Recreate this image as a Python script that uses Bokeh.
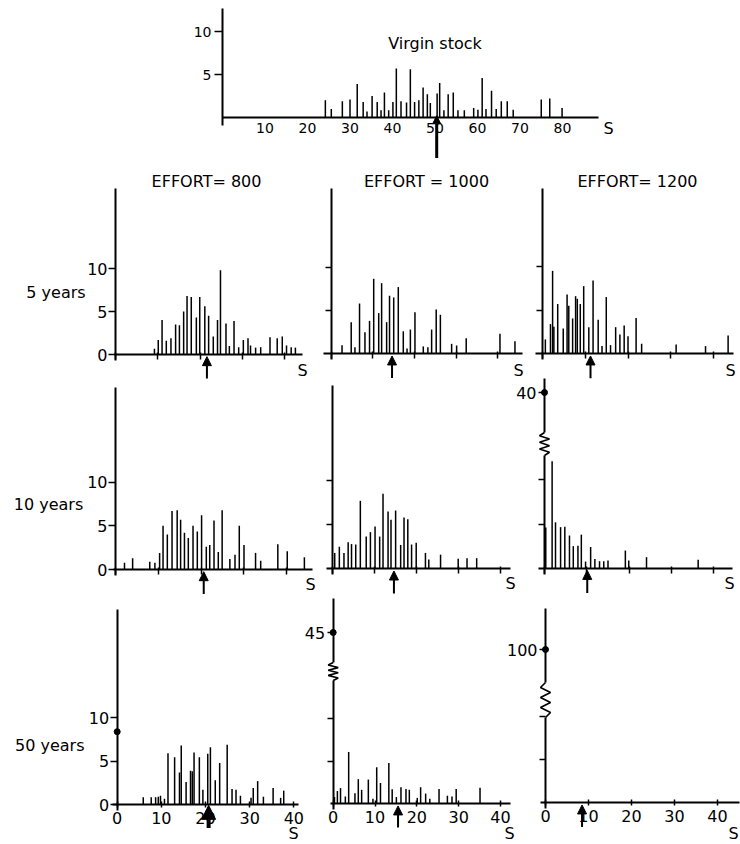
from bokeh.plotting import figure
from bokeh.models import (Range1d, LinearAxis, FixedTicker, Arrow, NormalHead,
                          Label, ColumnDataSource)
from bokeh.embed import file_html
from bokeh.resources import INLINE

W, H = 740, 844
FONT = "DejaVu Sans"

# ---------------------------------------------------------------- data
# Number of fish (n) at each stock-size class (S)

virgin_s = [24.2, 25.6, 28.2, 30.0, 31.7, 33.1, 34.0, 35.2, 36.4, 37.3, 38.1, 39.1, 40.1, 40.9,
            42.0, 43.3, 44.2, 45.2, 46.2, 47.2, 48.2, 48.9, 50.5, 51.1, 52.1, 53.1, 54.3, 55.4,
            56.9, 59.1, 60.1, 61.1, 62.0, 63.3, 64.4, 65.6, 67.0, 68.4, 75.0, 77.0, 79.9]
virgin_n = [2.0, 1.0, 1.9, 2.1, 3.9, 1.8, 0.7, 2.5, 1.8, 0.85, 2.9, 0.85, 1.8, 5.7,
            1.9, 1.75, 5.6, 1.8, 2.0, 3.5, 2.7, 1.7, 2.8, 4.0, 0.85, 2.7, 2.9, 0.85,
            0.85, 1.1, 0.9, 4.6, 1.0, 3.1, 1.0, 1.9, 1.9, 0.9, 2.1, 2.2, 1.1]

e800_5y_s = [9.2, 10.1, 11.0, 12.0, 13.1, 14.2, 15.1, 16.1, 16.9, 17.9, 19.1, 19.9, 21.1, 22.0,
             23.1, 24.1, 24.8, 26.1, 26.9, 28.0, 29.1, 30.2, 31.3, 31.9, 33.1, 34.3, 36.5, 38.2,
             39.4, 40.4, 41.5, 42.5]
e800_5y_n = [0.66, 1.7, 4.0, 1.6, 1.9, 3.5, 3.4, 5.0, 6.8, 6.7, 4.3, 6.7, 5.6, 4.5,
             2.1, 4.0, 9.8, 3.6, 1.0, 3.9, 0.85, 1.7, 1.9, 1.05, 0.8, 0.85, 2.0, 1.9,
             2.1, 1.05, 0.85, 0.8]

e1000_5y_s = [2.6, 4.8, 5.7, 6.8, 8.1, 9.2, 10.2, 11.4, 12.1, 13.3, 14.0, 15.0, 16.1, 17.3,
              18.2, 19.0, 20.1, 22.1, 23.2, 24.1, 25.2, 26.2, 28.9, 30.1, 32.4, 40.5, 44.1]
e1000_5y_n = [1.0, 3.65, 0.77, 5.8, 2.5, 3.8, 8.65, 4.7, 8.15, 3.65, 6.7, 6.5, 7.7, 2.6,
              0.6, 2.8, 4.8, 0.85, 0.77, 2.8, 5.1, 4.5, 1.15, 0.96, 1.8, 2.3, 1.46]

e1200_5y_s = [0.6, 1.8, 2.3, 2.6, 3.5, 4.8, 5.7, 6.1, 7.0, 7.7, 8.1, 8.8, 9.6, 10.8,
              11.8, 13.0, 13.9, 14.9, 15.9, 17.1, 18.1, 19.1, 20.0, 21.9, 23.2, 31.3, 38.2, 43.5]
e1200_5y_n = [1.65, 3.4, 9.5, 3.1, 5.7, 2.9, 6.8, 5.5, 4.05, 6.6, 6.3, 5.7, 7.75, 3.05,
              8.4, 3.9, 0.9, 6.5, 1.0, 3.05, 2.2, 3.25, 2.0, 4.1, 1.15, 1.07, 0.88, 2.1]

e800_10y_s = [2.1, 4.0, 8.0, 9.2, 10.3, 11.1, 12.1, 13.2, 14.4, 15.2, 16.1, 17.0, 18.1, 19.1,
              20.1, 21.2, 22.0, 23.0, 24.0, 24.9, 26.7, 27.9, 28.9, 30.0, 32.7, 33.9, 37.9,
              40.1, 44.1]
e800_10y_n = [0.76, 1.3, 0.9, 0.76, 1.9, 5.0, 4.0, 6.7, 6.8, 5.7, 4.2, 3.6, 5.0, 4.35,
              6.2, 2.6, 2.8, 5.6, 2.0, 6.8, 1.2, 1.7, 5.0, 2.8, 1.9, 1.0, 2.9,
              2.1, 1.4]

e1000_10y_s = [0.6, 1.7, 2.8, 3.8, 4.6, 5.6, 6.7, 8.1, 9.1, 10.2, 11.3, 12.1, 13.3, 14.0,
               15.1, 16.3, 17.1, 18.0, 18.9, 20.0, 22.2, 23.0, 25.8, 30.0, 32.1, 34.4]
e1000_10y_n = [1.8, 2.5, 1.8, 3.0, 2.8, 2.75, 7.7, 3.65, 4.15, 4.8, 3.65, 8.5, 6.5, 5.55,
               6.6, 2.7, 5.8, 5.6, 2.75, 2.95, 1.8, 1.05, 1.6, 1.13, 1.2, 1.2]

e1200_10y_s = [0.3, 1.8, 2.6, 3.8, 4.8, 5.9, 6.8, 7.9, 8.7, 9.7, 10.9, 11.9, 13.0, 14.0,
               15.0, 19.1, 19.9, 24.1, 36.3]
e1200_10y_n = [4.6, 12.1, 5.2, 4.65, 4.7, 3.7, 2.5, 2.55, 3.8, 0.75, 2.4, 1.05, 0.8, 0.8,
               0.87, 2.0, 0.87, 1.25, 0.95]

e800_50y_s = [5.9, 7.7, 8.7, 9.3, 9.8, 10.7, 11.5, 13.0, 14.1, 14.5, 15.6, 16.6, 17.0, 17.4,
              18.6, 19.4, 20.5, 21.1, 22.2, 23.2, 24.9, 26.0, 26.9, 27.9, 30.3, 30.8, 31.8,
              33.1, 35.3, 37.0, 37.7]
e800_50y_n = [0.85, 0.85, 0.85, 0.9, 1.0, 0.65, 5.9, 5.45, 3.7, 6.8, 2.6, 3.9, 3.85, 6.0,
              5.45, 1.7, 5.85, 6.6, 2.8, 4.8, 6.9, 1.8, 1.7, 1.0, 0.77, 1.9, 2.7,
              0.9, 1.9, 0.77, 1.6]

e1000_50y_s = [0.3, 1.0, 1.75, 2.9, 3.7, 5.2, 6.0, 6.8, 8.4, 9.5, 10.4, 11.3, 13.3, 14.1,
               15.1, 16.2, 17.4, 18.2, 20.1, 20.9, 22.1, 23.1, 25.3, 27.3, 28.4, 29.4, 35.1]
e1000_50y_n = [0.8, 1.5, 1.85, 0.86, 6.1, 1.25, 2.9, 1.65, 2.85, 0.6, 4.3, 2.45, 4.8, 1.7,
               0.8, 1.95, 1.75, 1.65, 0.7, 1.95, 1.2, 0.6, 1.75, 0.95, 0.86, 1.75, 1.9]

e1200_50y_s = []
e1200_50y_n = []

# Count in the S = 0 class, shown as a dot on the vertical axis
e800_50y_zero = 8.4
e1200_10y_zero = 40
e1000_50y_zero = 45
e1200_50y_zero = 100

# Mean S of each distribution (arrow under the axis)
mean_s = {"virgin": 50.4,
          "e800_5y": 21.6, "e1000_5y": 14.6, "e1200_5y": 11.2,
          "e800_10y": 20.6, "e1000_10y": 14.7, "e1200_10y": 10.1,
          "e800_50y": 20.7, "e1000_50y": 15.5, "e1200_50y": 8.5}

efforts = ["EFFORT= 800", "EFFORT = 1000", "EFFORT= 1200"]
year_labels = ["5 years", "10 years", "50 years"]

series = {
    "virgin": (virgin_s, virgin_n),
    "e800_5y": (e800_5y_s, e800_5y_n), "e1000_5y": (e1000_5y_s, e1000_5y_n),
    "e1200_5y": (e1200_5y_s, e1200_5y_n),
    "e800_10y": (e800_10y_s, e800_10y_n), "e1000_10y": (e1000_10y_s, e1000_10y_n),
    "e1200_10y": (e1200_10y_s, e1200_10y_n),
    "e800_50y": (e800_50y_s, e800_50y_n), "e1000_50y": (e1000_50y_s, e1000_50y_n),
    "e1200_50y": (e1200_50y_s, e1200_50y_n),
}

# ---------------------------------------------------------------- layout
# axis origin on the page (ox, oy in px) and px per unit (sx, sy) for each panel
geom = {
    "virgin":    dict(ox=222.0, oy=117.0, sx=4.25, sy=8.6),
    "e800_5y":   dict(ox=115.0, oy=354.0, sx=4.233, sy=8.6),
    "e1000_5y":  dict(ox=330.7, oy=353.3, sx=4.167, sy=8.667),
    "e1200_5y":  dict(ox=542.3, oy=353.3, sx=4.26, sy=8.73),
    "e800_10y":  dict(ox=115.0, oy=569.0, sx=4.283, sy=8.73),
    "e1000_10y": dict(ox=331.7, oy=568.3, sx=4.2, sy=8.83),
    "e1200_10y": dict(ox=544.0, oy=567.7, sx=4.233, sy=8.83),
    "e800_50y":  dict(ox=116.7, oy=804.0, sx=4.417, sy=8.667),
    "e1000_50y": dict(ox=332.7, oy=803.3, sx=4.183, sy=8.5),
    "e1200_50y": dict(ox=545.0, oy=802.3, sx=4.3, sy=8.6),
}

# horizontal axis extent, vertical axis top (px), S-label position (px)
axis_ext = {
    "virgin":    dict(x=(0.0, 88.5), ytop=8, S=(608, 128)),
    "e800_5y":   dict(x=(-0.3, 44.1), ytop=188, S=(302, 370)),
    "e1000_5y":  dict(x=(-1.8, 45.8), ytop=188, S=(518, 370)),
    "e1200_5y":  dict(x=(-1.7, 44.8), ytop=188, S=(730, 370)),
    "e800_10y":  dict(x=(-0.4, 45.9), ytop=387, S=(310, 584)),
    "e1000_10y": dict(x=(-1.4, 42.5), ytop=385, S=(510, 583)),
    "e1200_10y": dict(x=(-1.3, 44.3), ytop=None, S=(729, 583)),
    "e800_50y":  dict(x=(-1.1, 41.1), ytop=609, S=(293, 833)),
    "e1000_50y": dict(x=(-0.6, 42.4), ytop=None, S=(509, 833)),
    "e1200_50y": dict(x=(-1.2, 45.0), ytop=None, S=(733, 833)),
}

# broken vertical axes: where the S = 0 dot sits and where the zigzag is (px)
breaks = {
    "e1200_10y": dict(value=e1200_10y_zero, at=392, lo=455, hi=432, top=378),
    "e1000_50y": dict(value=e1000_50y_zero, at=632, lo=680, hi=662, top=598),
    "e1200_50y": dict(value=e1200_50y_zero, at=649, lo=717, hi=682, top=608),
}

p = figure(width=W, height=H, x_range=Range1d(0, W), y_range=Range1d(0, H),
           x_axis_type=None, y_axis_type=None, toolbar_location=None,
           output_backend="svg", min_border=0, outline_line_color=None,
           background_fill_color="white", border_fill_color="white")

xr, yr = {}, {}
for key, g in geom.items():
    xr[key] = Range1d(-g["ox"] / g["sx"], (W - g["ox"]) / g["sx"])
    yr[key] = Range1d(-(H - g["oy"]) / g["sy"], g["oy"] / g["sy"])
for key, b in breaks.items():
    g = geom[key]
    oy_up = b["at"] + b["value"] * g["sy"]
    b["oy_up"] = oy_up
    yr[key + "_up"] = Range1d(-(H - oy_up) / g["sy"], oy_up / g["sy"])
p.extra_x_ranges = xr
p.extra_y_ranges = yr


def place(key, px, py):
    g = geom[key]
    return (px - g["ox"]) / g["sx"], (g["oy"] - py) / g["sy"]


def text(key, px, py, s, size, align="center"):
    x, y = place(key, px, py)
    p.add_layout(Label(x=x, y=y, x_range_name=key, y_range_name=key, text=s,
                       text_font=FONT, text_font_size=f"{size}px", text_color="black",
                       text_align=align, text_baseline="middle"))


def axis(key, side, bounds, ticks, labelled, size, tick_in, tick_out, standoff,
         y_name=None):
    ax = LinearAxis(x_range_name=key, y_range_name=y_name or key, fixed_location=0,
                    bounds=bounds, ticker=FixedTicker(ticks=ticks, minor_ticks=[]))
    ax.axis_line_width = 2
    ax.axis_line_color = "black"
    ax.major_tick_line_width = 1.5
    ax.major_tick_line_color = "black"
    ax.major_tick_in = tick_in
    ax.major_tick_out = tick_out
    ax.minor_tick_line_color = None
    ax.major_label_standoff = standoff
    ax.major_label_text_font = FONT
    ax.major_label_text_font_size = f"{size}px"
    ax.major_label_text_color = "black" if labelled else None
    p.add_layout(ax, side)
    return ax


for key, (s_vals, n_vals) in series.items():
    g = geom[key]
    ext = axis_ext[key]
    col = 0 if key.startswith("e800") else 1 if key.startswith("e1000") else 2
    bottom_row = key.endswith("50y")

    # bars
    src = ColumnDataSource(dict(s=s_vals, n=n_vals, base=[0] * len(s_vals)))
    p.segment(x0="s", y0="base", x1="s", y1="n", source=src, line_color="black",
              line_width=1.5, x_range_name=key, y_range_name=key)

    # horizontal axis
    if key == "virgin":
        axis(key, "below", ext["x"], [10, 20, 30, 40, 50, 60, 70, 80], True, 14, 0, 0, 5)
    else:
        axis(key, "below", ext["x"], [0, 10, 20, 30, 40], bottom_row, 16,
             2 if not bottom_row else 3, 5 if not bottom_row else 3, 4)

    # vertical axis
    if key == "virgin":
        top = (g["oy"] - ext["ytop"]) / g["sy"]
        axis(key, "left", (-0.9, top), [5, 10], True, 14, 0, 8, 3)
    elif key in breaks:
        b = breaks[key]
        lo = (g["oy"] - b["lo"]) / g["sy"]
        hi = (g["oy"] - b["hi"]) / g["sy"]
        axis(key, "left", (-0.7, lo), [5, 10], False, 16, 0, 6, 2)
        up_lo = (b["oy_up"] - b["hi"]) / g["sy"]
        up_hi = (b["oy_up"] - b["top"]) / g["sy"]
        axis(key, "left", (up_lo, up_hi), [b["value"]], True, 16, 0, 6, 2,
             y_name=key + "_up")
        # zigzag marking the break
        amp = 5.0 / g["sx"]
        steps = 7
        zx, zy = [0.0], [lo]
        for i in range(1, steps):
            zx.append(amp if i % 2 else -amp)
            zy.append(lo + (hi - lo) * i / steps)
        zx.append(0.0)
        zy.append(hi)
        p.line(zx, zy, line_color="black", line_width=1.6,
               x_range_name=key, y_range_name=key)
        p.scatter([0], [b["value"]], size=6, color="black",
                  x_range_name=key, y_range_name=key + "_up")
    else:
        top = (g["oy"] - ext["ytop"]) / g["sy"]
        if col == 0:
            axis(key, "left", (-0.7, top), [0, 5, 10], True, 16, 0, 7, 1)
        else:
            axis(key, "left", (-0.7, top), [5, 10], False, 16, 0, 6, 2)

    if key == "e800_50y":
        p.scatter([0], [e800_50y_zero], size=6, color="black",
                  x_range_name=key, y_range_name=key)

    # arrow at the mean S
    m = mean_s[key]
    if key == "virgin":
        tail, tip, head, lw = -4.7, 0.2, 8, 3
    elif key == "e800_50y":
        tail, tip, head, lw = -2.7, -0.1, 14, 4
    else:
        tail, tip, head, lw = -2.8, -0.25, 9, 2
    p.add_layout(Arrow(end=NormalHead(size=head, fill_color="black", line_color="black",
                                      line_width=1),
                       x_start=m, y_start=tail, x_end=m, y_end=tip,
                       line_color="black", line_width=lw,
                       x_range_name=key, y_range_name=key))

    # "S" axis name
    text(key, ext["S"][0], ext["S"][1], "S", 16)

# titles
text("virgin", 437, 43, "Virgin  stock", 16)
for name, key, cx in zip(efforts, ["e800_5y", "e1000_5y", "e1200_5y"], [206, 426, 637]):
    text(key, cx, 181, name, 16)
for name, key, (cx, cy) in zip(year_labels, ["e800_5y", "e800_10y", "e800_50y"],
                               [(55.5, 292), (48, 504), (49.3, 745)]):
    text(key, cx, cy, name, 16)

open("out.html", "w").write(file_html(p, INLINE))
